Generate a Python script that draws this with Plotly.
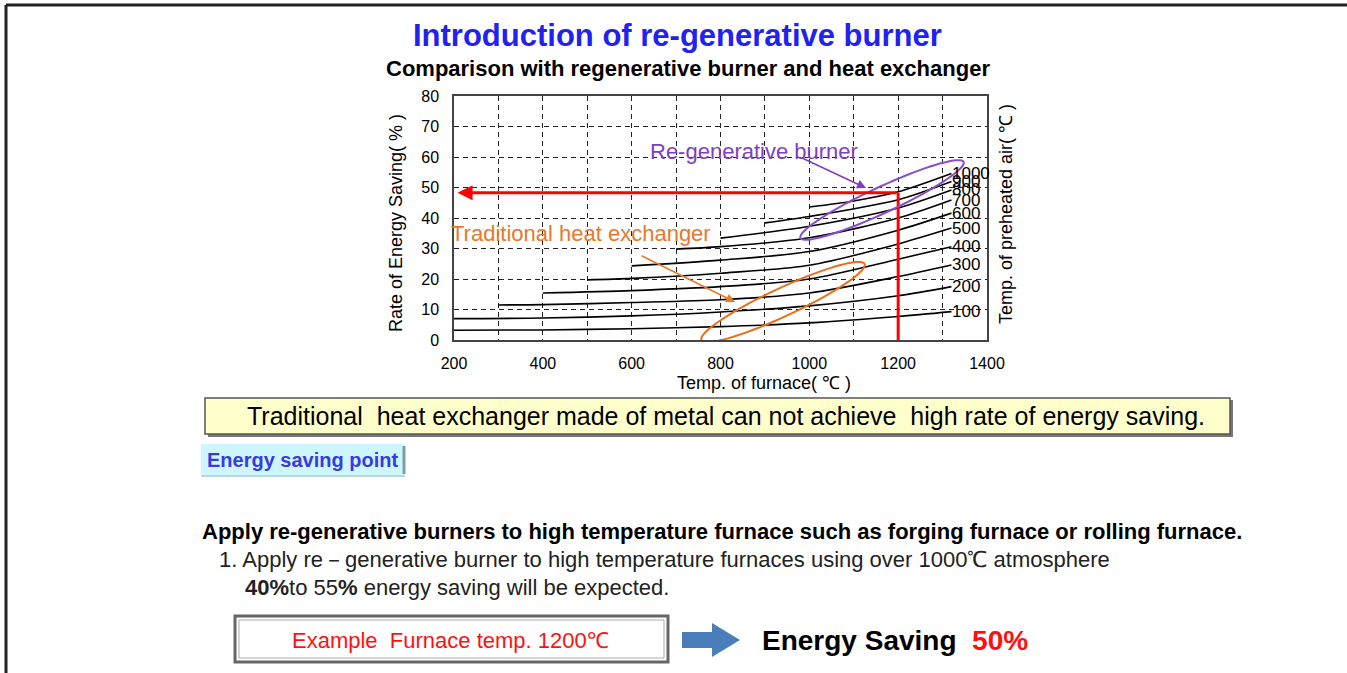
import numpy as np
import plotly.graph_objects as go

# ---- data -------------------------------------------------------------
furnace_ticks = [200, 400, 600, 800, 1000, 1200, 1400]
saving_ticks = [0, 10, 20, 30, 40, 50, 60, 70, 80]

air_temps = [100, 200, 300, 400, 500, 600, 700, 800, 900, 1000]

# energy-saving curves (furnace temp -> saving %) per preheated-air temperature
curve_x = {
    100: [200, 400, 600, 800, 1000, 1200, 1320],
    200: [200, 400, 600, 800, 1000, 1200, 1320],
    300: [300, 400, 600, 800, 1000, 1200, 1320],
    400: [400, 600, 800, 1000, 1200, 1320],
    500: [500, 600, 800, 1000, 1200, 1320],
    600: [600, 800, 1000, 1200, 1320],
    700: [700, 800, 1000, 1200, 1320],
    800: [800, 1000, 1200, 1320],
    900: [900, 1000, 1200, 1320],
    1000: [1000, 1100, 1200, 1320],
}
curve_y = {
    100: [3.2, 3.3, 3.7, 4.4, 5.6, 7.7, 9.3],
    200: [7.0, 7.2, 7.9, 9.2, 11.2, 14.5, 17.5],
    300: [11.5, 11.6, 12.3, 13.2, 15.4, 20.8, 24.6],
    400: [15.4, 16.2, 17.5, 20.0, 26.5, 30.6],
    500: [19.7, 20.2, 21.9, 24.5, 31.5, 36.7],
    600: [24.3, 26.2, 29.0, 36.0, 41.6],
    700: [29.8, 30.6, 33.5, 40.0, 45.9],
    800: [33.4, 37.3, 43.3, 49.2],
    900: [38.4, 40.5, 46.0, 52.0],
    1000: [43.6, 45.6, 48.6, 54.6],
}

example_temp = 1200
example_saving = 48.3

# ---- page geometry ------------------------------------------------------
W, H = 1347, 673
PLOT_L, PLOT_R, PLOT_T, PLOT_B = 454, 987, 96, 340
X_RANGE = [200, 1400]
Y_RANGE = [0, 80]
X_PER_PX = (X_RANGE[1] - X_RANGE[0]) / (PLOT_R - PLOT_L)
Y_PER_PX = (Y_RANGE[1] - Y_RANGE[0]) / (PLOT_B - PLOT_T)


def px(x):
    return x / W


def py(y):
    return 1 - y / H


def ellipse_path(cx, cy, a_px, b_px, angle_deg, n=80):
    """Rotated ellipse in data coords; semi-axes given in screen pixels."""
    t = np.linspace(0, 2 * np.pi, n)
    th = np.radians(angle_deg)
    dx = a_px * np.cos(t) * np.cos(th) - b_px * np.sin(t) * np.sin(th)
    dy = a_px * np.cos(t) * np.sin(th) + b_px * np.sin(t) * np.cos(th)
    xs = cx + dx * X_PER_PX
    ys = cy + dy * Y_PER_PX
    pts = [f"{x:.2f},{y:.3f}" for x, y in zip(xs, ys)]
    return "M " + " L ".join(pts) + " Z"


def note(x, y, text, size, color, family, xanchor="center", angle=0):
    return dict(x=px(x), y=py(y), xref="paper", yref="paper", text=text,
                showarrow=False, xanchor=xanchor, yanchor="middle", textangle=angle,
                font=dict(family=family, size=size, color=color))


fig = go.Figure()

for t in air_temps:
    fig.add_trace(go.Scatter(
        x=curve_x[t], y=curve_y[t], mode="lines",
        line=dict(color="black", width=1.6, shape="spline", smoothing=0.8),
        showlegend=False, hoverinfo="skip"))

# red guide: vertical at the example furnace temperature
fig.add_trace(go.Scatter(
    x=[example_temp, example_temp], y=[0, example_saving], mode="lines",
    line=dict(color="#ff0000", width=3), showlegend=False, hoverinfo="skip"))

NARROW = "Liberation Sans Narrow, Arial Narrow, Liberation Sans, Arial"
SANS = "Liberation Sans, Arial, sans-serif"

ann = []
# red horizontal arrow to the saving axis
ann.append(dict(x=X_RANGE[0] + 8, y=example_saving, ax=example_temp, ay=example_saving,
                xref="x", yref="y", axref="x", ayref="y", text="", showarrow=True,
                arrowhead=2, arrowsize=1, arrowwidth=3, arrowcolor="#ff0000"))

# curve labels (preheated air temperature)
for t in air_temps:
    ann.append(dict(x=1316, y=curve_y[t][-1], xref="x", yref="y", text=str(t),
                    showarrow=False, xanchor="left", yanchor="middle",
                    font=dict(family=SANS, size=17, color="black")))

# callouts
ann.append(note(754, 152, "Re-generative burner", 22, "#7f3fbf", NARROW))
ann.append(note(581, 233, "Traditional heat exchanger", 22, "#e8782a", NARROW))
ann.append(dict(x=X_RANGE[0] + (866 - PLOT_L) * X_PER_PX, y=(PLOT_B - 188) * Y_PER_PX,
                ax=X_RANGE[0] + (800 - PLOT_L) * X_PER_PX, ay=(PLOT_B - 157) * Y_PER_PX,
                xref="x", yref="y", axref="x", ayref="y", text="", showarrow=True,
                arrowhead=2, arrowsize=1.2, arrowwidth=1.5, arrowcolor="#7f3fbf"))
ann.append(dict(x=X_RANGE[0] + (735 - PLOT_L) * X_PER_PX, y=(PLOT_B - 302) * Y_PER_PX,
                ax=X_RANGE[0] + (640 - PLOT_L) * X_PER_PX, ay=(PLOT_B - 255) * Y_PER_PX,
                xref="x", yref="y", axref="x", ayref="y", text="", showarrow=True,
                arrowhead=2, arrowsize=1.2, arrowwidth=1.5, arrowcolor="#e8782a"))

# axis titles
ann.append(note(396, 223, "Rate of Energy Saving( % )", 18, "black", SANS, angle=-90))
ann.append(note(1006, 214, "Temp. of preheated air( ℃ )", 18, "black", SANS, angle=-90))
ann.append(note(764, 383, "Temp. of furnace( ℃ )", 18, "black", SANS))

# titles
ann.append(note(677, 35, "<b>Introduction of re-generative burner</b>", 31, "#2121f0", SANS))
ann.append(note(688, 69, "<b>Comparison with regenerative burner and heat exchanger</b>",
                22, "black", SANS))

# notes below the chart
ann.append(note(726, 416,
                "Traditional  heat exchanger made of metal can not achieve  high rate of energy saving.",
                25, "black", SANS))
ann.append(note(302, 460, "<b>Energy saving point</b>", 20, "#3a3ae0", NARROW))
ann.append(note(200, 531,
                "<b>Apply re-generative burners to high temperature furnace such as forging furnace or rolling furnace.</b>",
                22, "black", SANS, xanchor="left"))
ann.append(note(217, 559,
                "1. Apply re－generative burner to high temperature furnaces using over 1000℃ atmosphere",
                22, "#222222", SANS, xanchor="left"))
ann.append(note(243, 587, "<b>40%</b>to 55<b>%</b> energy saving will be expected.",
                22, "#222222", SANS, xanchor="left"))
ann.append(note(451, 640, "Example  Furnace temp. 1200℃", 22, "#ff1010", NARROW))
ann.append(note(760, 640, "<b>Energy Saving  <span style='color:#ff1010'>50%</span></b>",
                28, "black", SANS, xanchor="left"))

shapes = []
# page frame
shapes.append(dict(type="line", xref="paper", yref="paper", x0=px(6), x1=1, y0=py(5), y1=py(5),
                   line=dict(color="#222222", width=3)))
shapes.append(dict(type="line", xref="paper", yref="paper", x0=px(6), x1=px(6), y0=py(5), y1=0,
                   line=dict(color="#222222", width=3)))
# ellipses
shapes.append(dict(type="path", xref="x", yref="y",
                   path=ellipse_path(X_RANGE[0] + (882 - PLOT_L) * X_PER_PX,
                                     (PLOT_B - 200) * Y_PER_PX, 90, 13, 25),
                   line=dict(color="#8a4fc8", width=2)))
shapes.append(dict(type="path", xref="x", yref="y",
                   path=ellipse_path(X_RANGE[0] + (783 - PLOT_L) * X_PER_PX,
                                     (PLOT_B - 302) * Y_PER_PX, 90, 14, 25),
                   line=dict(color="#e8701a", width=2)))
# yellow note box
shapes.append(dict(type="rect", xref="paper", yref="paper", x0=px(208), x1=px(1233),
                   y0=py(437), y1=py(400), fillcolor="#777777", line=dict(width=0), layer="below"))
shapes.append(dict(type="rect", xref="paper", yref="paper", x0=px(205), x1=px(1230),
                   y0=py(434), y1=py(398), fillcolor="#ffffcc",
                   line=dict(color="#555555", width=1.5), layer="below"))
# "Energy saving point" tag
shapes.append(dict(type="rect", xref="paper", yref="paper", x0=px(201), x1=px(405),
                   y0=py(476), y1=py(444), fillcolor="#cdf6ff",
                   line=dict(width=0), layer="below"))
shapes.append(dict(type="line", xref="paper", yref="paper", x0=px(404), x1=px(404),
                   y0=py(474), y1=py(446), line=dict(color="#7f9f9f", width=3)))
shapes.append(dict(type="line", xref="paper", yref="paper", x0=px(201), x1=px(405),
                   y0=py(476), y1=py(476), line=dict(color="#b8d8dc", width=2)))
# example box
shapes.append(dict(type="rect", xref="paper", yref="paper", x0=px(235), x1=px(668),
                   y0=py(662), y1=py(616), fillcolor="white",
                   line=dict(color="#666666", width=3), layer="below"))
shapes.append(dict(type="rect", xref="paper", yref="paper", x0=px(239), x1=px(664),
                   y0=py(658), y1=py(620), fillcolor="rgba(0,0,0,0)",
                   line=dict(color="#aaaaaa", width=1), layer="below"))
# blue arrow
arrow_pts = [(682, 632), (712, 632), (712, 623), (740, 640), (712, 657), (712, 648), (682, 648)]
shapes.append(dict(type="path", xref="paper", yref="paper",
                   path="M " + " L ".join(f"{px(a):.5f},{py(b):.5f}" for a, b in arrow_pts) + " Z",
                   fillcolor="#4a7ebb", line=dict(width=0)))

grid = dict(showgrid=True, gridcolor="#222222", gridwidth=1, griddash="5px,4px")

fig.update_layout(
    width=W, height=H, margin=dict(l=0, r=0, t=0, b=0, pad=0, autoexpand=False),
    paper_bgcolor="white", plot_bgcolor="white",
    annotations=ann, shapes=shapes, showlegend=False,
    xaxis=dict(domain=[px(PLOT_L), px(PLOT_R)], range=X_RANGE, tickvals=furnace_ticks,
               ticks="", ticklabelstandoff=8, zeroline=False, automargin=False,
               showline=True, mirror=True, linecolor="#444444", linewidth=1.5,
               tickfont=dict(family=SANS, size=16, color="black"),
               minor=dict(dtick=100, showgrid=True, gridcolor="#222222", griddash="5px,4px"),
               **grid),
    yaxis=dict(domain=[py(PLOT_B), py(PLOT_T)], range=Y_RANGE, tickvals=saving_ticks,
               ticks="", ticklabelstandoff=10, zeroline=False, automargin=False,
               showline=True, mirror=True, linecolor="#444444", linewidth=1.5,
               tickfont=dict(family=SANS, size=16, color="black"), **grid),
)

fig.write_html("out.html")
